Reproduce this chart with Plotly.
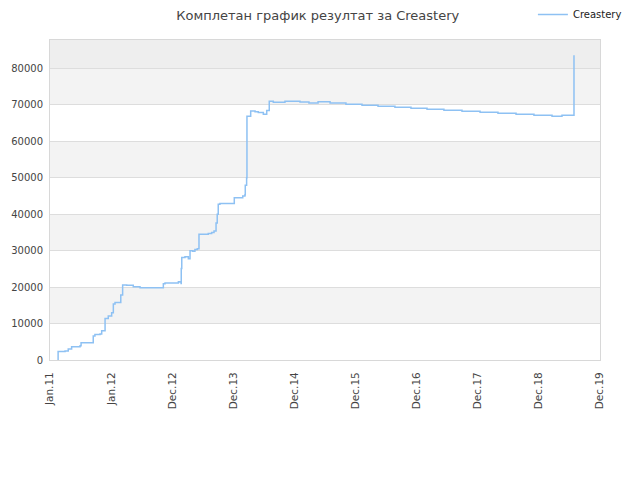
import plotly.graph_objects as go

dates = [
    "2011-02-15", "2011-02-18", "2011-03-31", "2011-04-19", "2011-05-09", "2011-06-28",
    "2011-07-04", "2011-09-08", "2011-09-14", "2011-09-24", "2011-10-24", "2011-11-03",
    "2011-11-23", "2011-12-12", "2012-01-01", "2012-01-11", "2012-01-21", "2012-02-13",
    "2012-02-24", "2012-03-06", "2012-03-30", "2012-05-08", "2012-06-17", "2012-10-27",
    "2012-11-02", "2012-11-12", "2013-01-20", "2013-01-30", "2013-02-09", "2013-02-15",
    "2013-02-16", "2013-02-19", "2013-03-10", "2013-03-30", "2013-04-09", "2013-04-25",
    "2013-05-08", "2013-05-22", "2013-06-01", "2013-07-26", "2013-08-15", "2013-08-29",
    "2013-09-10", "2013-09-17", "2013-09-23", "2013-10-03", "2013-12-18", "2013-12-27",
    "2014-02-15", "2014-02-28", "2014-03-02", "2014-03-10", "2014-03-12", "2014-04-03",
    "2014-04-29", "2014-05-18", "2014-06-17", "2014-07-07", "2014-07-22", "2014-08-15",
    "2014-10-13", "2014-10-23", "2015-01-10", "2015-01-20", "2015-03-14", "2015-05-07",
    "2015-07-17", "2015-10-19", "2016-01-22", "2016-04-26", "2016-08-04", "2016-11-07",
    "2017-02-10", "2017-05-21", "2017-09-05", "2017-12-21", "2018-04-06", "2018-07-22",
    "2018-11-05", "2019-02-20", "2019-04-20", "2019-06-30", "2019-06-30",
]
scores = [
    0, 2300, 2500, 3000, 3650, 3900,
    4750, 4750, 6600, 7000, 7100, 8000,
    11400, 12050, 12960, 15340, 15800, 15800,
    17800, 20550, 20500, 20100, 19800, 19800,
    20900, 21100, 21100, 21470, 21400, 21000,
    25100, 28140, 28300, 27800, 29950, 29800,
    30300, 30500, 34520, 34700, 35000, 35350,
    37600, 40000, 42740, 42930, 42930, 44470,
    45000, 45300, 47950, 50000, 66860, 68300,
    68100, 67900, 67400, 68400, 70970, 70700,
    70700, 71000, 71000, 70780, 70500, 70850,
    70500, 70140, 69870, 69600, 69320, 69050,
    68770, 68500, 68230, 67950, 67680, 67400,
    67130, 66860, 67130, 67130, 83570,
]

tick_dates = ["2011-01-01", "2011-12-29", "2012-12-25", "2013-12-21", "2014-12-18",
              "2015-12-15", "2016-12-11", "2017-12-08", "2018-12-04", "2019-12-01"]
tick_labels = ["Jan.11", "Jan.12", "Dec.12", "Dec.13", "Dec.14",
               "Dec.15", "Dec.16", "Dec.17", "Dec.18", "Dec.19"]
y_ticks = [0, 10000, 20000, 30000, 40000, 50000, 60000, 70000, 80000]
y_max = 87770

fig = go.Figure()
fig.add_trace(go.Scatter(
    x=dates, y=scores, mode="lines", name="Creastery",
    line=dict(color="#8ec1f3", width=1.5, shape="hv"),
))

shapes = []
for lo in [10000, 30000, 50000, 70000]:
    shapes.append(dict(type="rect", xref="paper", yref="y", x0=0, x1=1, y0=lo, y1=lo + 10000,
                       fillcolor="#f3f3f3", line=dict(width=0), layer="below"))
shapes.append(dict(type="rect", xref="paper", yref="y", x0=0, x1=1, y0=80000, y1=y_max,
                   fillcolor="#eeeeee", line=dict(width=0), layer="below"))

fig.update_layout(
    width=640, height=480,
    margin=dict(l=42, r=48, t=32, b=128, autoexpand=False),
    paper_bgcolor="white", plot_bgcolor="white",
    font=dict(family="DejaVu Sans", size=10, color="#444"),
    title=dict(text="Комплетан график резултат за Creastery", x=0.484, xanchor="center",
               xref="container", y=0.995, yref="container", yanchor="top",
               pad=dict(t=0, b=0, l=0, r=0),
               font=dict(size=13, color="#444")),
    showlegend=True,
    legend=dict(x=0.878, xanchor="left", xref="paper", y=1.125, yref="paper",
                yanchor="top", font=dict(size=10, color="#222"), bgcolor="rgba(0,0,0,0)"),
    shapes=shapes,
    xaxis=dict(type="date", range=["2011-01-01", "2019-12-01"],
               tickvals=tick_dates, ticktext=tick_labels, tickangle=-90,
               tickfont=dict(size=10.5), ticklabelstandoff=7,
               showgrid=False, zeroline=False, showline=True, mirror=True,
               linecolor="#d8d8d8", linewidth=1, ticks=""),
    yaxis=dict(range=[0, y_max], tickvals=y_ticks, showgrid=True, gridcolor="#dddddd",
               gridwidth=1, zeroline=False, showline=True, mirror=True,
               tickfont=dict(size=10), ticklabelstandoff=4,
               linecolor="#d8d8d8", linewidth=1, ticks="", tickformat="d"),
)

fig.write_html("out.html")
